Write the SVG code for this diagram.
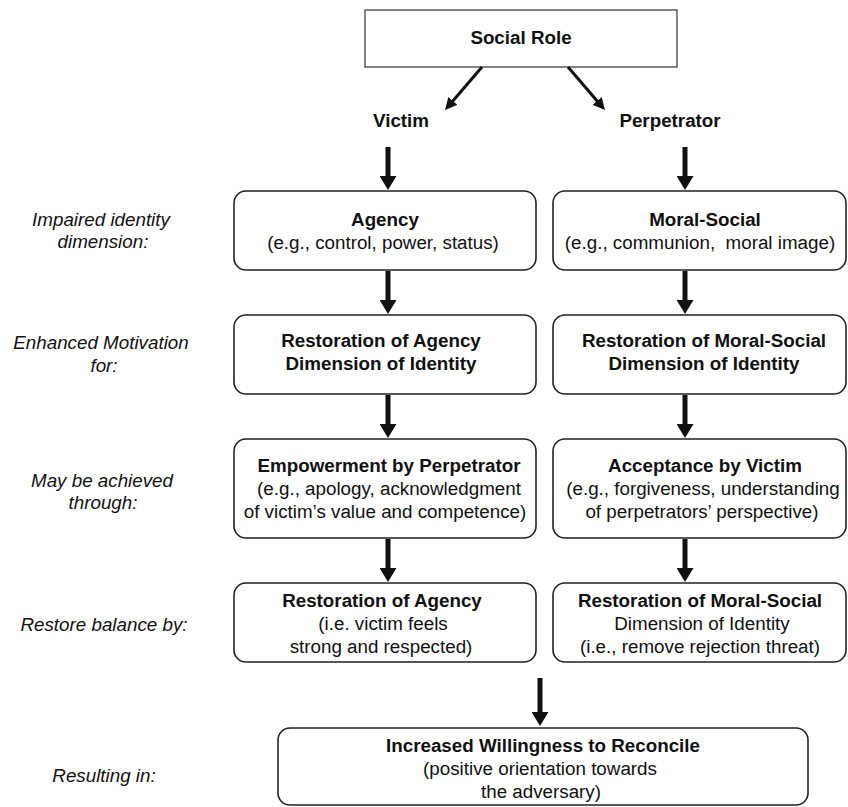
<svg xmlns="http://www.w3.org/2000/svg" width="848" height="807" viewBox="0 0 848 807">
<defs>
<style>
text{font-family:"Liberation Sans",Arial,sans-serif;font-size:18.8px;fill:#111;text-anchor:middle}
.b{font-weight:bold}
.i{font-style:italic}
.box{fill:#fff;stroke:#222;stroke-width:1.6}
.thin{stroke:#111;stroke-width:3;fill:none}
.thick{stroke:#111;stroke-width:5;fill:none}
</style>
<marker id="ah" viewBox="0 0 12 12" refX="3" refY="6" markerWidth="4" markerHeight="4" orient="auto" markerUnits="strokeWidth">
<path d="M0,0 L12,6 L0,12 z" fill="#111"/>
</marker>
<marker id="bh" viewBox="0 0 14 17" refX="4" refY="8.5" markerWidth="2.8" markerHeight="3.4" orient="auto" markerUnits="strokeWidth" preserveAspectRatio="none">
<path d="M0,0 L14,8.5 L0,17 z" fill="#111"/>
</marker>
</defs>
<rect width="848" height="807" fill="#fff"/>
<g id="labels">
<text class="i" x="101" y="226">Impaired identity</text>
<text class="i" x="103" y="248">dimension:</text>
<text class="i" x="101" y="349">Enhanced Motivation</text>
<text class="i" x="104" y="372">for:</text>
<text class="i" x="102" y="487">May be achieved</text>
<text class="i" x="103" y="509">through:</text>
<text class="i" x="104" y="631">Restore balance by:</text>
<text class="i" x="104" y="782">Resulting in:</text>
</g>
<g id="social-role">
<rect x="365" y="10" width="312" height="57" fill="#fff" stroke="#333" stroke-width="1.2"/>
<text class="b" x="521" y="44">Social Role</text>
</g>
<g id="victim"><text class="b" x="401" y="127">Victim</text></g>
<g id="perpetrator"><text class="b" x="670" y="127">Perpetrator</text></g>
<g id="agency">
<rect class="box" x="234" y="191" width="302" height="79" rx="12"/>
<text class="b" x="385" y="226">Agency</text>
<text x="383" y="249">(e.g., control, power, status)</text>
</g>
<g id="moral-social">
<rect class="box" x="553" y="191" width="293" height="79" rx="12"/>
<text class="b" x="705" y="226">Moral-Social</text>
<text x="700" y="249">(e.g., communion,&#160; moral image)</text>
</g>
<g id="restoration-agency-motive">
<rect class="box" x="234" y="315" width="302" height="79" rx="12"/>
<text class="b" x="381" y="347">Restoration of Agency</text>
<text class="b" x="381" y="370">Dimension of Identity</text>
</g>
<g id="restoration-moral-motive">
<rect class="box" x="553" y="315" width="293" height="79" rx="12"/>
<text class="b" x="704" y="347">Restoration of Moral-Social</text>
<text class="b" x="704" y="370">Dimension of Identity</text>
</g>
<g id="empowerment">
<rect class="box" x="234" y="439" width="302" height="99" rx="12"/>
<text class="b" x="389" y="472">Empowerment by Perpetrator</text>
<text x="389" y="495">(e.g., apology, acknowledgment</text>
<text x="385" y="518">of victim’s value and competence)</text>
</g>
<g id="acceptance">
<rect class="box" x="553" y="439" width="293" height="99" rx="12"/>
<text class="b" x="705" y="472">Acceptance by Victim</text>
<text x="703" y="495">(e.g., forgiveness, understanding</text>
<text x="702" y="518">of perpetrators’ perspective)</text>
</g>
<g id="restore-agency">
<rect class="box" x="234" y="583" width="302" height="79" rx="12"/>
<text class="b" x="382" y="607">Restoration of Agency</text>
<text x="383" y="630">(i.e. victim feels</text>
<text x="381" y="653">strong and respected)</text>
</g>
<g id="restore-moral">
<rect class="box" x="553" y="583" width="293" height="79" rx="12"/>
<text class="b" x="700" y="607">Restoration of Moral-Social</text>
<text x="702" y="630">Dimension of Identity</text>
<text x="700" y="653">(i.e., remove rejection threat)</text>
</g>
<g id="willingness">
<rect class="box" x="278" y="728" width="530" height="77" rx="12"/>
<text class="b" x="543" y="752">Increased Willingness to Reconcile</text>
<text x="540" y="775">(positive orientation towards</text>
<text x="541" y="798">the adversary)</text>
</g>
<g id="connectors">
<line class="thin" x1="482" y1="67" x2="450.9" y2="103.2" marker-end="url(#ah)"/>
<line class="thin" x1="568" y1="67" x2="599.1" y2="103.2" marker-end="url(#ah)"/>
<line class="thick" x1="388" y1="147" x2="388" y2="180" marker-end="url(#bh)"/>
<line class="thick" x1="685" y1="147" x2="685" y2="180" marker-end="url(#bh)"/>
<line class="thick" x1="388" y1="271" x2="388" y2="304" marker-end="url(#bh)"/>
<line class="thick" x1="685" y1="271" x2="685" y2="304" marker-end="url(#bh)"/>
<line class="thick" x1="388" y1="395" x2="388" y2="428" marker-end="url(#bh)"/>
<line class="thick" x1="685" y1="395" x2="685" y2="428" marker-end="url(#bh)"/>
<line class="thick" x1="388" y1="539" x2="388" y2="572" marker-end="url(#bh)"/>
<line class="thick" x1="685" y1="539" x2="685" y2="572" marker-end="url(#bh)"/>
<line class="thick" x1="540" y1="678" x2="540" y2="716" marker-end="url(#bh)"/>
</g>
</svg>
